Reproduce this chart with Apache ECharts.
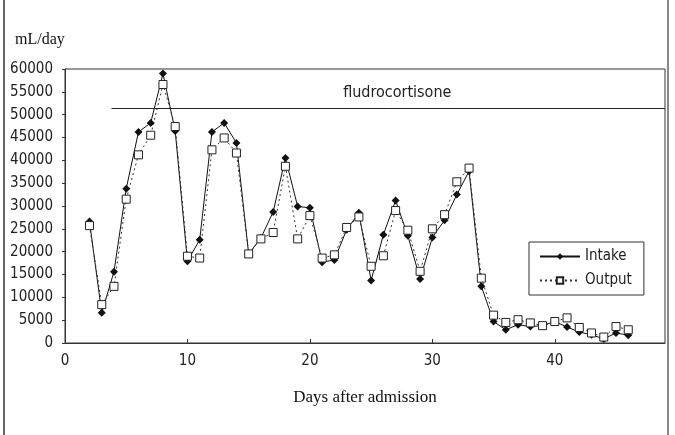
<!DOCTYPE html>
<html>
<head>
<meta charset="utf-8">
<script src="https://cdn.jsdelivr.net/npm/echarts@6/dist/echarts.min.js"></script>
<style>
  html, body { margin: 0; padding: 0; background: #fff; }
  #chart { width: 675px; height: 435px; }
</style>
</head>
<body>
<div id="chart"></div>
<script>
// days after admission
const days = [2, 3, 4, 5, 6, 7, 8, 9, 10, 11, 12, 13, 14, 15, 16, 17, 18, 19, 20, 21, 22, 23, 24,
    25, 26, 27, 28, 29, 30, 31, 32, 33, 34, 35, 36, 37, 38, 39, 40, 41, 42, 43, 44, 45, 46];
// mL/day
const intake = [26600, 6600, 15600, 33800, 46200, 48200, 59000, 46400, 17900, 22600, 46200, 48200,
    43800, 19500, 23000, 28700, 40500, 29900, 29600, 17700, 18200, 24800, 28500, 13700, 23700,
    31200, 23500, 14000, 23100, 26900, 32500, 37600, 12400, 4700, 2900, 4000, 3600, 3800, 4700,
    3500, 2400, 1800, 900, 2200, 1700];
const output = [25700, 8400, 12400, 31500, 41200, 45500, 56600, 47400, 19000, 18600, 42300, 44900,
    41600, 19500, 22800, 24200, 38700, 22800, 27900, 18600, 19300, 25300, 27600, 16800, 19100,
    29000, 24700, 15700, 25000, 28100, 35300, 38300, 14200, 6100, 4500, 5100, 4400, 3800, 4700,
    5500, 3400, 2200, 1300, 3600, 2900];
// fludrocortisone period bar: start day, end day, level
const fludroStart = 3.8;
const fludroEnd = 49;
const fludroLevel = 51500;

const pairs = (ys) => days.map((d, i) => [d, ys[i]]);

const narrow = '"Liberation Sans Narrow", "DejaVu Sans Condensed", sans-serif';
const serif = '"Liberation Serif", "DejaVu Serif", serif';

const chart = echarts.init(document.getElementById('chart'));
chart.setOption({
    animation: false,
    backgroundColor: '#fff',
    grid: {
        left: 65, right: 10, top: 69, bottom: 92,
        show: true, borderColor: '#333', borderWidth: 1, backgroundColor: 'transparent'
    },
    graphic: [
        { type: 'line', shape: { x1: 4, y1: 0, x2: 4, y2: 435 }, style: { stroke: '#666', lineWidth: 2 } },
        { type: 'line', shape: { x1: 668, y1: 0, x2: 668, y2: 435 }, style: { stroke: '#888', lineWidth: 2 } },
        { type: 'text', left: 15, top: 32, style: { text: 'mL/day', font: '16px ' + serif, fill: '#111' } }
    ],
    legend: {
        orient: 'vertical',
        left: 529, top: 242,
        backgroundColor: '#fff',
        borderColor: '#333', borderWidth: 1,
        padding: [7, 12, 7, 10],
        itemGap: 9,
        itemWidth: 40, itemHeight: 8,
        textStyle: { fontFamily: narrow, fontSize: 15, color: '#222' },
        data: ['Intake', 'Output']
    },
    xAxis: {
        type: 'value',
        min: 0, max: 49, interval: 10,
        name: 'Days after admission',
        nameLocation: 'middle',
        nameGap: 46,
        nameTextStyle: { fontFamily: serif, fontSize: 17, color: '#111' },
        axisLine: { lineStyle: { color: '#333' } },
        axisTick: { inside: true, length: 4, lineStyle: { color: '#333' } },
        axisLabel: { fontFamily: narrow, fontSize: 15, color: '#222', margin: 11, showMaxLabel: false },
        splitLine: { show: false }
    },
    yAxis: {
        type: 'value',
        min: 0, max: 60000, interval: 5000,
        axisLine: { show: true, lineStyle: { color: '#333' } },
        axisTick: { show: true, length: 3, lineStyle: { color: '#333' } },
        axisLabel: { fontFamily: narrow, fontSize: 15, color: '#222', margin: 12, formatter: (v) => String(v) },
        splitLine: { show: false }
    },
    series: [
        {
            name: 'Intake',
            type: 'line',
            data: pairs(intake),
            symbol: 'diamond',
            symbolSize: 8,
            itemStyle: { color: '#111' },
            lineStyle: { color: '#111', width: 1 },
            markLine: {
                silent: true,
                symbol: 'none',
                lineStyle: { color: '#222', width: 1, type: 'solid' },
                label: {
                    position: 'middle',
                    distance: 7,
                    offset: [9, 0],
                    formatter: 'fludrocortisone',
                    fontFamily: narrow,
                    fontSize: 16,
                    color: '#222'
                },
                data: [[{ coord: [fludroStart, fludroLevel] }, { coord: [fludroEnd, fludroLevel] }]]
            }
        },
        {
            name: 'Output',
            type: 'line',
            data: pairs(output),
            symbol: 'rect',
            symbolSize: 8,
            itemStyle: { color: '#fff', borderColor: '#222', borderWidth: 1 },
            lineStyle: { color: '#333', width: 1, type: [2, 3] }
        }
    ]
});
</script>
</body>
</html>
